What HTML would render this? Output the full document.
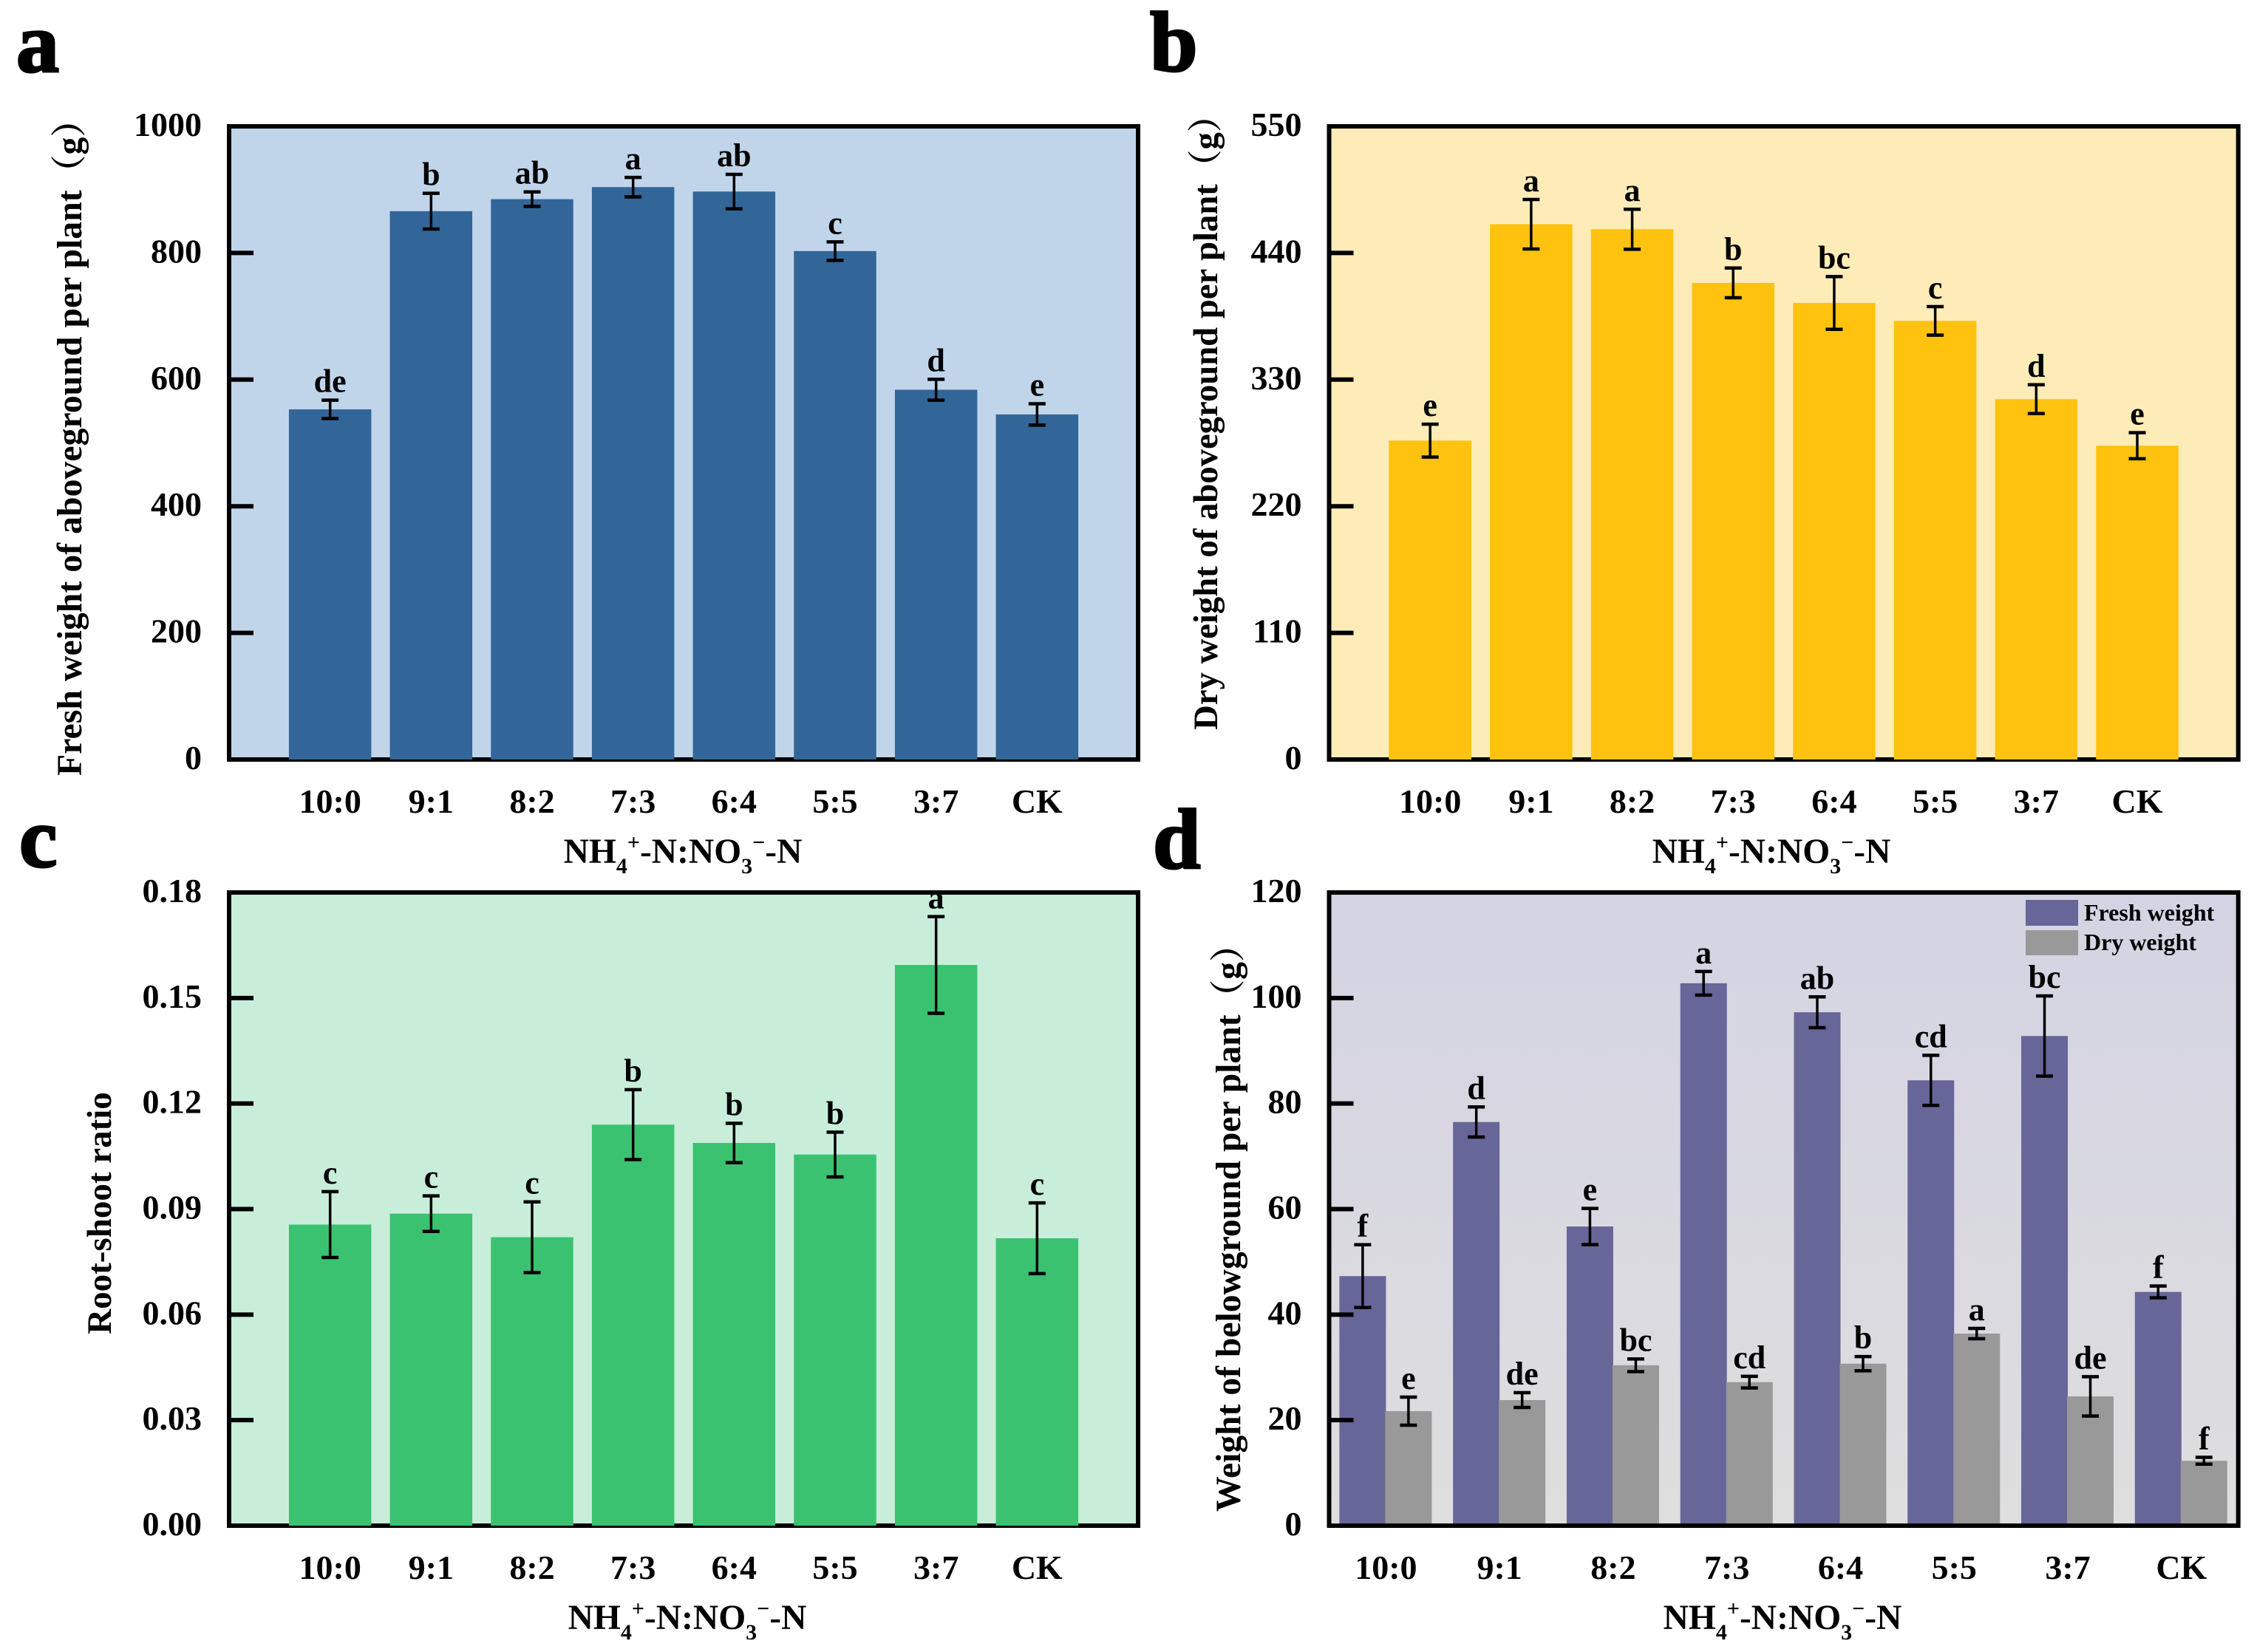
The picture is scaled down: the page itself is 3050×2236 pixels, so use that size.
<!DOCTYPE html>
<html lang="en">
<head>
<meta charset="utf-8">
<title>Weights and root-shoot ratio by NH4+-N:NO3--N treatment</title>
<style>
  html, body { margin: 0; padding: 0; background: #fff; }
  svg { display: block; }
  text { font-family: "Liberation Serif", "Noto Serif CJK SC", serif; font-weight: bold; fill: #000; }
  .xtitle { font-size: 47.5px; }
  .letter { font-size: 116px; stroke: #000; stroke-width: 3px; }
  .legend { font-size: 32px; }
</style>
</head>
<body>
<svg id="figure" xmlns="http://www.w3.org/2000/svg" width="3050" height="2236" viewBox="0 0 3050 2236">
  <defs>
    <linearGradient id="panelDGradient" x1="0" y1="0" x2="0" y2="1">
      <stop offset="0" stop-color="#d4d3e3"/>
      <stop offset="1" stop-color="#dedede"/>
    </linearGradient>
  </defs>
  <rect x="0" y="0" width="3050" height="2236" fill="#ffffff"/>
  <g id="plots"></g>

  <text class="letter" x="22" y="97">a</text>
  <text class="letter" x="1556" y="96">b</text>
  <text class="letter" x="26" y="1173">c</text>
  <text class="letter" x="1560" y="1175">d</text>

  <text font-size="47.8" x="110" y="1050" transform="rotate(-90 110 1050)">Fresh weight of aboveground per plant（g）</text>
  <text font-size="46.7" x="1647" y="988" transform="rotate(-90 1647 988)">Dry weight of aboveground per plant（g）</text>
  <text font-size="47" text-anchor="middle" x="150" y="1642" transform="rotate(-90 150 1642)">Root-shoot ratio</text>
  <text font-size="47.6" x="1678" y="2046" transform="rotate(-90 1678 2046)">Weight of belowground per plant（g）</text>

  <text class="xtitle" text-anchor="middle" x="924" y="1168">NH<tspan font-size="30" dy="14">4</tspan><tspan font-size="30" dy="-32">+</tspan><tspan dy="18">-N:NO</tspan><tspan font-size="30" dy="14">3</tspan><tspan font-size="30" dy="-32">−</tspan><tspan dy="18">-N</tspan></text>
  <text class="xtitle" text-anchor="middle" x="2397" y="1168">NH<tspan font-size="30" dy="14">4</tspan><tspan font-size="30" dy="-32">+</tspan><tspan dy="18">-N:NO</tspan><tspan font-size="30" dy="14">3</tspan><tspan font-size="30" dy="-32">−</tspan><tspan dy="18">-N</tspan></text>
  <text class="xtitle" text-anchor="middle" x="930" y="2205">NH<tspan font-size="30" dy="14">4</tspan><tspan font-size="30" dy="-32">+</tspan><tspan dy="18">-N:NO</tspan><tspan font-size="30" dy="14">3</tspan><tspan font-size="30" dy="-32">−</tspan><tspan dy="18">-N</tspan></text>
  <text class="xtitle" text-anchor="middle" x="2412" y="2205">NH<tspan font-size="30" dy="14">4</tspan><tspan font-size="30" dy="-32">+</tspan><tspan dy="18">-N:NO</tspan><tspan font-size="30" dy="14">3</tspan><tspan font-size="30" dy="-32">−</tspan><tspan dy="18">-N</tspan></text>

  <g id="legend">
    <rect x="2741" y="1218" width="71" height="35" fill="#666699"/>
    <text class="legend" x="2820" y="1246">Fresh weight</text>
    <rect x="2741" y="1259" width="71" height="34" fill="#999999"/>
    <text class="legend" x="2820" y="1286">Dry weight</text>
  </g>
</svg>

<script>
// ---- chart data ----
const categories = ["10:0", "9:1", "8:2", "7:3", "6:4", "5:5", "3:7", "CK"];

const aTicks = [0, 200, 400, 600, 800, 1000];
const aTickLabels = ["0", "200", "400", "600", "800", "1000"];
const aValues = [553, 866, 885, 904, 897, 803, 584, 545];
const aErrors = [14.5, 28.2, 11.5, 15.4, 27.2, 14.6, 16.5, 16.9];
const aLetters = ["de", "b", "ab", "a", "ab", "c", "d", "e"];

const bTicks = [0, 110, 220, 330, 440, 550];
const bTickLabels = ["0", "110", "220", "330", "440", "550"];
const bValues = [277, 465, 460.6, 414, 396.6, 381, 313, 272.6];
const bErrors = [14.3, 21.5, 17.4, 12.9, 22.9, 12.4, 12.5, 11.3];
const bLetters = ["e", "a", "a", "b", "bc", "c", "d", "e"];

const cTicks = [0, 0.03, 0.06, 0.09, 0.12, 0.15, 0.18];
const cTickLabels = ["0.00", "0.03", "0.06", "0.09", "0.12", "0.15", "0.18"];
const cValues = [0.0856, 0.0887, 0.0820, 0.1140, 0.1088, 0.1055, 0.1594, 0.0817];
const cErrors = [0.00937, 0.00506, 0.01005, 0.00994, 0.0056, 0.00636, 0.01374, 0.01005];
const cLetters = ["c", "c", "c", "b", "b", "b", "a", "c"];

const dTicks = [0, 20, 40, 60, 80, 100, 120];
const dTickLabels = ["0", "20", "40", "60", "80", "100", "120"];
const dFreshValues = [47.3, 76.5, 56.7, 102.8, 97.3, 84.4, 92.8, 44.3];
const dFreshErrors = [5.95, 2.85, 3.43, 2.24, 2.92, 4.74, 7.6, 1.12];
const dFreshLetters = ["f", "d", "e", "a", "ab", "cd", "bc", "f"];
const dDryValues = [21.7, 23.8, 30.4, 27.2, 30.7, 36.4, 24.5, 12.3];
const dDryErrors = [2.66, 1.4, 1.2, 1.1, 1.35, 0.98, 3.73, 0.65];
const dDryLetters = ["e", "de", "bc", "cd", "b", "a", "de", "f"];

// ---- drawing helpers ----
const SVG_NS = "http://www.w3.org/2000/svg";
const plots = document.getElementById("plots");

function make(tag, attrs, parent) {
  const el = document.createElementNS(SVG_NS, tag);
  Object.keys(attrs).forEach(function (k) { el.setAttribute(k, attrs[k]); });
  parent.appendChild(el);
  return el;
}

function yScale(panel, v) {
  return panel.bottom - (v / panel.max) * (panel.bottom - panel.top);
}

function xScale(panel, i) {
  const n = categories.length;
  if (panel.grouped) {
    const step = (panel.right - panel.left) / n;
    return panel.left + step * (i + 0.5);
  }
  const step = (panel.right - panel.left) / (n + 1);
  return panel.left + step * (i + 1);
}

function drawFrame(panel, g) {
  const frame = make("rect", {
    x: panel.left, y: panel.top,
    width: panel.right - panel.left, height: panel.bottom - panel.top,
    fill: "none", stroke: "#000000", "stroke-width": 6
  }, g);
  
  
}

function drawTicks(panel, g, ticks, labels) {
  ticks.forEach(function (t, i) {
    const yy = yScale(panel, t);
    const line = make("line", {
      x1: panel.left, x2: panel.left + 33, y1: yy, y2: yy,
      stroke: "#000000", "stroke-width": 6
    }, g);
    
    
    const label = make("text", {
      x: panel.left - 37, y: yy + 13, "text-anchor": "end", "font-size": 46
    }, g);
    label.textContent = labels[i];
    
    
  });
}

function drawCategoryLabels(panel, g) {
  categories.forEach(function (c, i) {
    const label = make("text", {
      x: xScale(panel, i), y: panel.bottom + 72, "text-anchor": "middle", "font-size": 46
    }, g);
    label.textContent = c;
    
    
  });
}

function drawBars(panel, g, values, color, barWidth, shift, seriesName) {
  values.forEach(function (v, i) {
    const cx = xScale(panel, i) + shift;
    const top = yScale(panel, v);
    const bar = make("rect", {
      x: cx - barWidth / 2, y: top, width: barWidth,
      height: yScale(panel, 0) - top, fill: color
    }, g);
    
    
  });
}

function drawErrors(panel, g, values, errors, letters, shift, seriesName) {
  values.forEach(function (v, i) {
    const cx = xScale(panel, i) + shift;
    const hi = yScale(panel, v + errors[i]);
    const lo = yScale(panel, v - errors[i]);
    const stem = make("line", { x1: cx, x2: cx, y1: hi, y2: lo, stroke: "#000000", "stroke-width": 3.5 }, g);
    
    
    const capHi = make("line", { x1: cx - 11.5, x2: cx + 11.5, y1: hi, y2: hi, stroke: "#000000", "stroke-width": 4.5 }, g);
    
    
    const capLo = make("line", { x1: cx - 11.5, x2: cx + 11.5, y1: lo, y2: lo, stroke: "#000000", "stroke-width": 4.5 }, g);
    
    
    const mark = make("text", { x: cx, y: hi - 11, "text-anchor": "middle", "font-size": 44 }, g);
    mark.textContent = letters[i];
    
    
  });
}

function panelGroup(panel, fill) {
  const g = make("g", {}, plots);
  
  
  const bg = make("rect", {
    x: panel.left, y: panel.top,
    width: panel.right - panel.left, height: panel.bottom - panel.top, fill: fill
  }, g);
  
  
  return g;
}

// ---- panels ----
const panelA = { id: "panel-a", left: 310, right: 1540, top: 171, bottom: 1028, max: 1000 };
const panelB = { id: "panel-b", left: 1798.5, right: 3028.7, top: 171, bottom: 1028, max: 550 };
const panelC = { id: "panel-c", left: 310, right: 1540, top: 1208, bottom: 2065, max: 0.18 };
const panelD = { id: "panel-d", left: 1798.5, right: 3028.7, top: 1208, bottom: 2065, max: 120, grouped: true };

function drawSingle(panel, fill, color, ticks, labels, values, errors, letters) {
  const g = panelGroup(panel, fill);
  drawFrame(panel, g);
  drawTicks(panel, g, ticks, labels);
  drawBars(panel, g, values, color, 111.5, 0, panel.id);
  drawErrors(panel, g, values, errors, letters, 0, panel.id);
  drawCategoryLabels(panel, g);
}

drawSingle(panelA, "#c1d5ea", "#326699", aTicks, aTickLabels, aValues, aErrors, aLetters);
drawSingle(panelB, "#feecb8", "#fec20f", bTicks, bTickLabels, bValues, bErrors, bLetters);
drawSingle(panelC, "#c8eeda", "#3ac270", cTicks, cTickLabels, cValues, cErrors, cLetters);

(function () {
  const g = panelGroup(panelD, "url(#panelDGradient)");
  drawBars(panelD, g, dFreshValues, "#666699", 63, -31.5, "fresh-weight");
  drawBars(panelD, g, dDryValues, "#999999", 63, 30.5, "dry-weight");
  drawFrame(panelD, g);
  drawTicks(panelD, g, dTicks, dTickLabels);
  drawErrors(panelD, g, dFreshValues, dFreshErrors, dFreshLetters, -31.5, "fresh-weight");
  drawErrors(panelD, g, dDryValues, dDryErrors, dDryLetters, 30.5, "dry-weight");
  drawCategoryLabels(panelD, g);
})();
</script>
</body>
</html>
